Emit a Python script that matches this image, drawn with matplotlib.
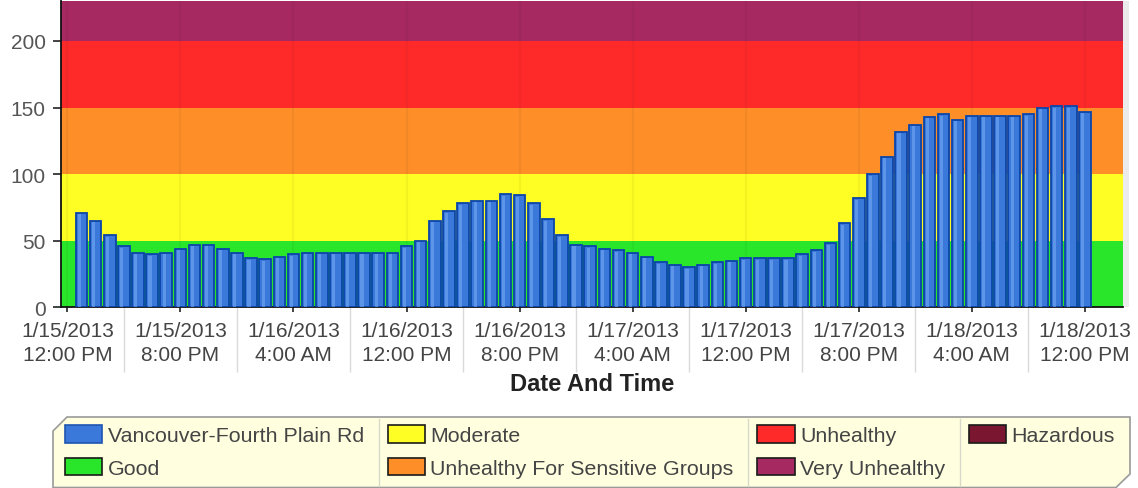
import matplotlib
matplotlib.use('Agg')
import matplotlib.pyplot as plt
import matplotlib.dates as mdates
from matplotlib.ticker import FuncFormatter, FixedLocator
from matplotlib.patches import Polygon, Patch
from matplotlib.lines import Line2D
import numpy as np
import pandas as pd

plt.rcParams['font.family'] = ['Liberation Sans', 'DejaVu Sans']

# ---------------- data ----------------
series_name = 'Vancouver-Fourth Plain Rd'
first_hour = '2013-01-15 13:00'
aqi = [71, 65, 54, 46, 41, 40, 41, 44, 47, 47, 44, 41, 37, 36, 38, 40, 41, 41, 41, 41, 41, 41, 41,
       46, 50, 65, 72, 78, 80, 80, 85, 84, 78, 66, 54, 47, 46, 44, 43, 41, 38, 34, 32, 30, 32, 34, 35,
       37, 37, 37, 37, 40, 43, 48, 63, 82, 100, 113, 132, 137, 143, 145, 141, 144, 144, 144, 144, 145,
       150, 151, 151, 147]

band_names = ['Good', 'Moderate', 'Unhealthy For Sensitive Groups', 'Unhealthy',
              'Very Unhealthy', 'Hazardous']
band_low = [0, 50, 100, 150, 200, 300]
band_high = [50, 100, 150, 200, 300, 500]
band_colors = ['#2AE62A', '#FEFE24', '#FD8E28', '#FE2A2A', '#A62962', '#7A1630']

major_tick_times = ['2013-01-15 12:00', '2013-01-15 20:00', '2013-01-16 04:00', '2013-01-16 12:00',
                    '2013-01-16 20:00', '2013-01-17 04:00', '2013-01-17 12:00', '2013-01-17 20:00',
                    '2013-01-18 04:00', '2013-01-18 12:00']
y_ticks = [0, 50, 100, 150, 200]
x_title = 'Date And Time'

# ---------------- figure ----------------
W, H = 1138, 489
fig = plt.figure(figsize=(W / 100, H / 100), dpi=100)


def fx(px):
    return px / W


def fy(py):
    return 1 - py / H


ax_l, ax_r, ax_t, ax_b = 61, 1123, 2, 308.3
ax = fig.add_axes([fx(ax_l), fy(ax_b), fx(ax_r - ax_l), (ax_b - ax_t) / H])

times = pd.date_range(first_hour, periods=len(aqi), freq='h')
hour = pd.Timedelta(hours=1)
t0 = pd.Timestamp(major_tick_times[0])

# AQI bands
for lo, hi, c in zip(band_low, band_high, band_colors):
    ax.axhspan(lo, hi, color=c, zorder=0, lw=0)

# bars
vals = np.array(aqi, dtype=float)
ax.bar(times, vals, width=0.82 / 24, color='#3A78DA', edgecolor='#0B45AA', linewidth=1.3, zorder=3)
ax.bar(times - pd.Timedelta(minutes=9), vals - 1.2, width=0.22 / 24, color='#7AB0F6',
       alpha=0.55, linewidth=0, zorder=4)

ax.set_xlim(t0 - 0.45 * hour, t0 + 74.7 * hour)
ax.set_ylim(0, 230)

# ticks
major_locs = [mdates.date2num(pd.Timestamp(t)) for t in major_tick_times]
minor_locs = [mdates.date2num(pd.Timestamp(t) + 4 * hour) for t in major_tick_times[:-1]]
ax.xaxis.set_major_locator(FixedLocator(major_locs))
ax.xaxis.set_minor_locator(FixedLocator(minor_locs))


def fmt(x, pos):
    d = mdates.num2date(x)
    h12 = d.hour % 12 or 12
    ampm = 'AM' if d.hour < 12 else 'PM'
    return f"{d.month}/{d.day}/{d.year}\n{h12}:{d.minute:02d} {ampm}"


ax.xaxis.set_major_formatter(FuncFormatter(fmt))
ax.xaxis.set_minor_formatter(FuncFormatter(lambda x, p: ''))
ax.tick_params(axis='x', which='major', length=3.6, width=1.2, color='#222', pad=6.5,
               labelsize=15, labelcolor='#444')
ax.tick_params(axis='x', which='minor', length=47, width=1.0, color='#DADADA')
for lab in ax.get_xticklabels():
    lab.set_linespacing(1.3)
ax.set_yticks(y_ticks)
ax.tick_params(axis='y', length=6, width=1.2, color='#222', pad=5, labelsize=15, labelcolor='#555')

ax.grid(axis='x', which='major', color='#000000', alpha=0.045, lw=1.6)
ax.set_axisbelow('line')

for s in ['top', 'right']:
    ax.spines[s].set_visible(False)
ax.spines['left'].set_color('#111')
ax.spines['bottom'].set_color('#111')
ax.spines['left'].set_linewidth(1.3)
ax.spines['bottom'].set_linewidth(1.3)

ax.set_xlabel(x_title, fontsize=17, fontweight='bold', color='#222', labelpad=-4)

# plot shadow on right
fig.patches.append(plt.Rectangle((fx(ax_r), fy(ax_b)), fx(6), (ax_b - ax_t) / H,
                                 transform=fig.transFigure, color='#000', alpha=0.08, lw=0))

# ---------------- legend ----------------
poly = [(53, 432), (67, 418), (1130, 418), (1130, 475), (1116, 488.5), (53, 488.5)]
fig.patches.append(Polygon([(fx(x), fy(y)) for x, y in poly], closed=True, transform=fig.transFigure,
                           facecolor='#FFFFE0', edgecolor='#9A9A9A', lw=1.2, zorder=0))

handles = [Patch(facecolor='#3A78DA', edgecolor='#1F55B0', lw=1.2, label=series_name)]
for name, c in zip(band_names, band_colors):
    handles.append(Patch(facecolor=c, edgecolor='#1a1a1a', lw=1.2, label=name))

leg = fig.legend(handles=handles, loc='upper left', bbox_to_anchor=(fx(65), fy(426)), ncol=4,
                 frameon=False, fontsize=15.4, handlelength=1.75, handleheight=0.9, handletextpad=0.25,
                 columnspacing=1.1, labelspacing=0.58, borderpad=0, borderaxespad=0)
for t in leg.get_texts():
    t.set_color('#444')

fig.canvas.draw()
hl = [h.get_window_extent().x0 for h in leg.legend_handles]
for idx in (2, 4, 6):
    xs = hl[idx] - 9
    fig.lines.append(Line2D([xs / W, xs / W], [fy(420), fy(487)], transform=fig.transFigure,
                            color='#D8D8C8', lw=1.0))

fig.savefig('out.png', dpi=100)
